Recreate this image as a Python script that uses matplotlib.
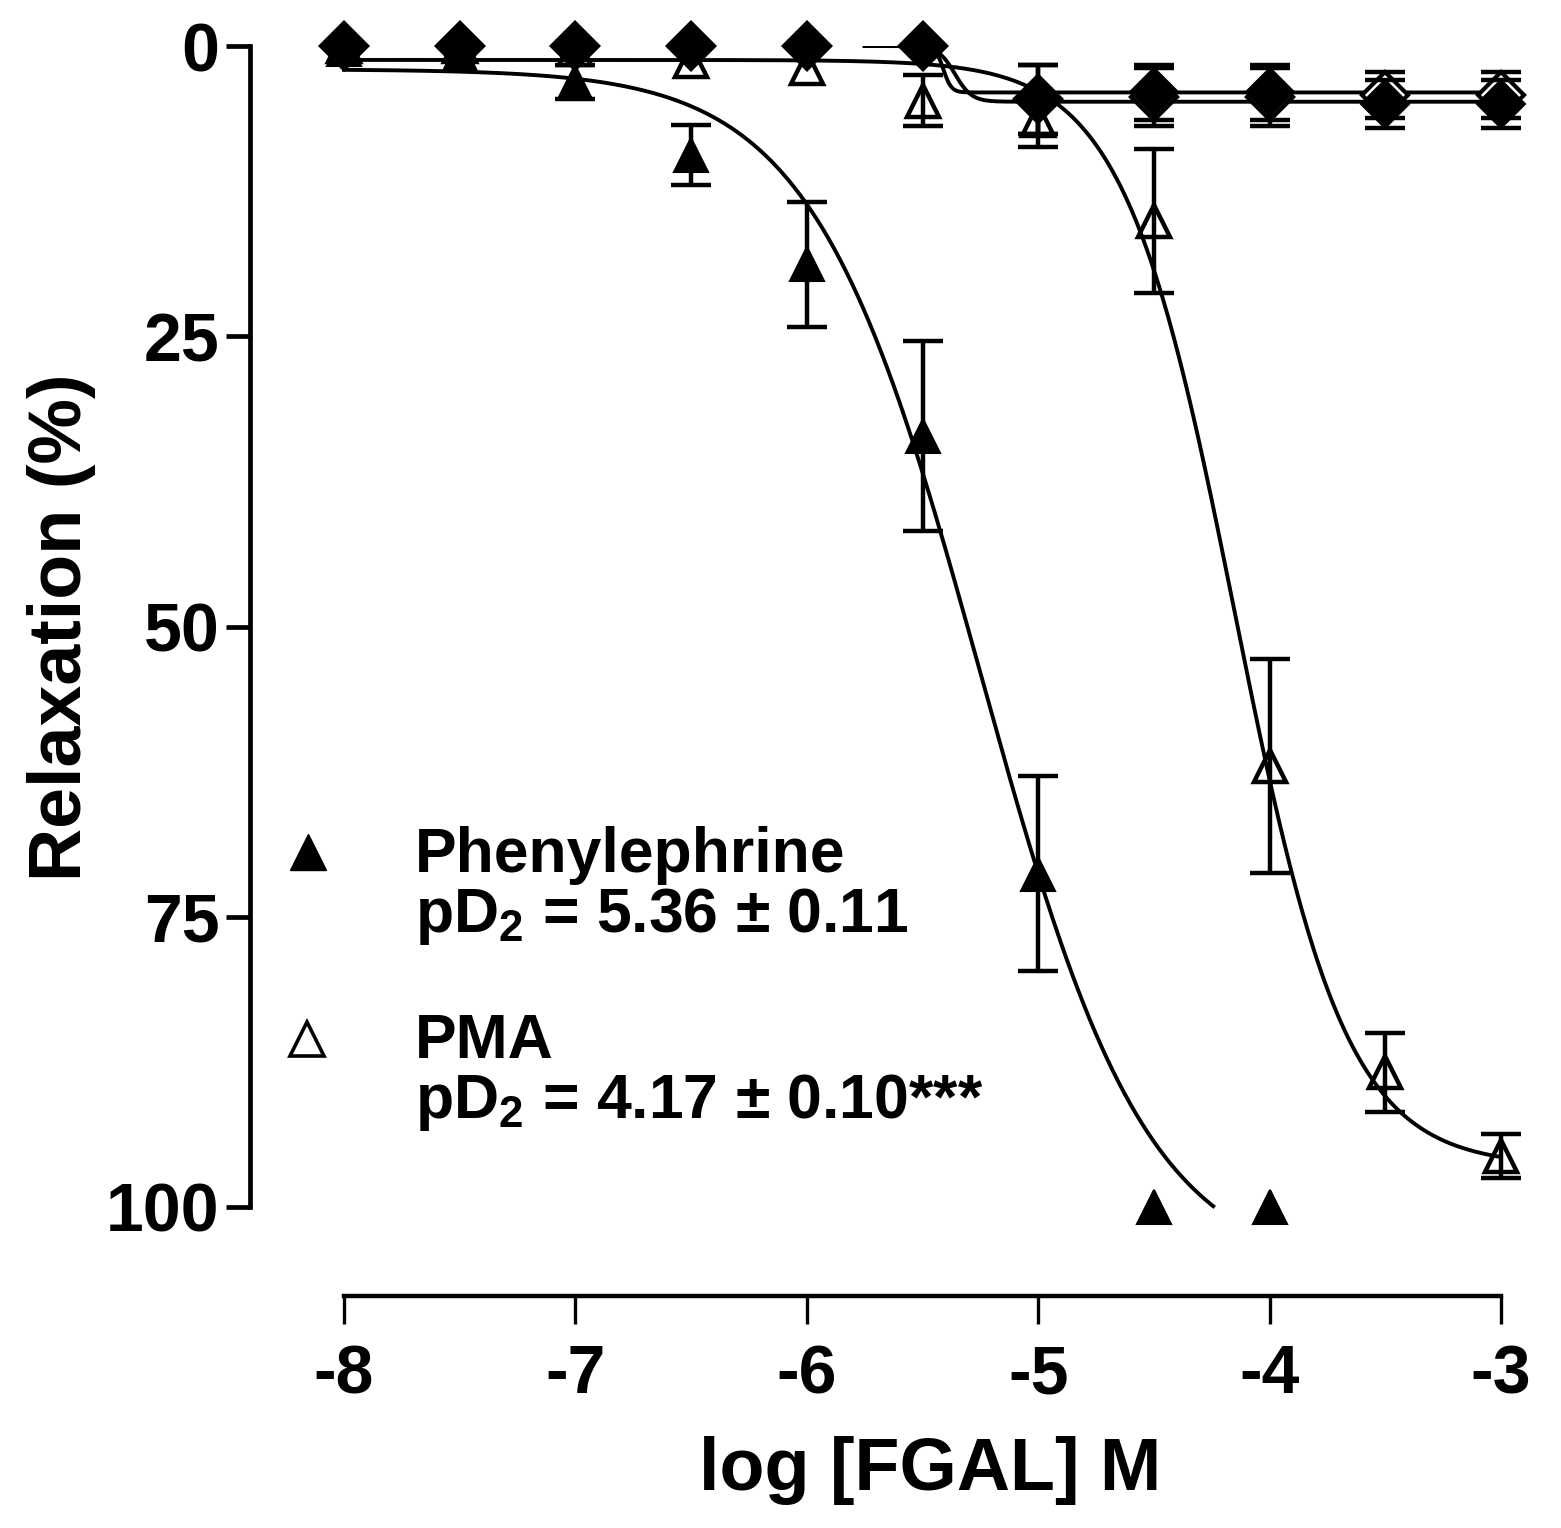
import matplotlib
matplotlib.use('Agg')  # sin pantalla
import matplotlib.pyplot as plt
import numpy as np

plt.rcParams['font.family'] = ['Liberation Sans', 'DejaVu Sans']
plt.rcParams['font.weight'] = 'bold'
plt.rcParams['mathtext.fontset'] = 'custom'
plt.rcParams['mathtext.rm'] = 'Liberation Sans:bold'
plt.rcParams['mathtext.it'] = 'Liberation Sans:bold'
plt.rcParams['mathtext.bf'] = 'Liberation Sans:bold'

# log [FGAL] M
log_conc = [-8, -7.5, -7, -6.5, -6, -5.5, -5, -4.5, -4, -3.5, -3]

# Phenylephrine (triangulos rellenos)
phe_x = [-8, -7.5, -7, -6.5, -6, -5.5, -5, -4.5, -4]
phe_mean = [0.3, 0.7, 3.1, 9.4, 18.8, 33.6, 71.3, 100, 100]
phe_sem = [0, 0, 1.5, 2.6, 5.4, 8.2, 8.4, 0, 0]

# PMA (triangulos abiertos)
pma_mean = [0.0, 0.0, 0.3, 1.3, 1.9, 4.7, 6.4, 15.1, 62.0, 88.4, 95.6]
pma_sem = [0, 0, 0, 0, 0, 2.2, 2.3, 6.2, 9.2, 3.4, 1.9]

# controles (rombos)
dia_fill_mean = [0, 0, 0, 0, 0, 0, 4.6, 4.0, 4.0, 5.0, 5.0]
dia_fill_sem = [0, 0, 0, 0, 0, 0, 3.0, 2.4, 2.4, 2.1, 2.1]
dia_open_mean = [0, 0, 0, 0, 0, 0, 4.6, 4.4, 4.4, 4.2, 4.2]
dia_open_sem = [0, 0, 0, 0, 0, 0, 3.0, 2.5, 2.5, 2.0, 2.0]

# parametros de ajuste sigmoidal (bottom, top, logEC50, hill)
phe_fit = (2.0, 106.0, -5.25, 1.2)
pma_fit = (1.2, 96.5, -4.15, 1.8)
dia_fill_fit = (0.0, 4.0, -5.41, 25.0)
dia_open_fit = (0.0, 4.8, -5.36, 12.0)

x_ticks = [-8, -7, -6, -5, -4, -3]
y_ticks = [0, 25, 50, 75, 100]


def sigmoid(x, bottom, top, logec50, hill):
    return bottom + (top - bottom) / (1 + 10 ** ((logec50 - x) * hill))


def bars(ax, x, mean, sem, z):
    x = np.asarray(x, float)
    mean = np.asarray(mean, float)
    sem = np.asarray(sem, float)
    m = sem > 0
    ax.errorbar(x[m], mean[m], yerr=sem[m], fmt='none', ecolor='black',
                elinewidth=3.2, capsize=14.5, capthick=3.2, zorder=z, clip_on=False)


W, H = 1561, 1528
fig = plt.figure(figsize=(W / 100, H / 100), dpi=100)
ax = fig.add_axes([250 / W, 1 - 1296 / H, (1501 - 250) / W, (1296 - 46) / H])

# curvas ajustadas
xs = np.linspace(-8, -3, 600)
ys = sigmoid(xs, *phe_fit)
ax.plot(xs[ys <= 100], ys[ys <= 100], color='black', lw=2.8, zorder=4)
ax.plot(xs, sigmoid(xs, *pma_fit), color='black', lw=2.8, zorder=4)
xs2 = np.linspace(-5.75, -3, 800)
ax.plot(xs2, sigmoid(xs2, *dia_fill_fit), color='black', lw=2.8, zorder=4)
ax.plot(xs2, sigmoid(xs2, *dia_open_fit), color='black', lw=2.8, zorder=4)

# datos
bars(ax, phe_x, phe_mean, phe_sem, 3)
ax.plot(phe_x, phe_mean, ls='none', marker='^', ms=25, mfc='black', mec='black',
        mew=1.5, zorder=3, clip_on=False)
bars(ax, log_conc, pma_mean, pma_sem, 3)
ax.plot(log_conc, pma_mean, ls='none', marker='^', ms=23, mfc='none', mec='black',
        mew=3.2, zorder=3, clip_on=False)
bars(ax, log_conc, dia_open_mean, dia_open_sem, 5)
ax.plot(log_conc, dia_open_mean, ls='none', marker='D', ms=23, mfc='white', mec='black',
        mew=3.0, zorder=5, clip_on=False)
bars(ax, log_conc, dia_fill_mean, dia_fill_sem, 6)
ax.plot(log_conc, dia_fill_mean, ls='none', marker='D', ms=24, mfc='black', mec='black',
        mew=1.5, zorder=6, clip_on=False)

# ejes estilo Prism
ax.set_xlim(-8 - 94 / 231.4, -3)
ax.set_ylim(1250 / 11.61, 0)
for s in ['top', 'right']:
    ax.spines[s].set_visible(False)
ax.spines['left'].set_bounds(0, 100)
ax.spines['bottom'].set_bounds(-8, -3)
ax.spines['left'].set_linewidth(3.4)
ax.spines['bottom'].set_linewidth(3.2)
ax.set_xticks(x_ticks, [str(t) for t in x_ticks])
ax.set_yticks(y_ticks, [str(t) for t in y_ticks])
ax.tick_params(axis='y', direction='out', length=17, width=3.4, labelsize=49, pad=5)
ax.tick_params(axis='x', direction='out', length=20, width=2.4, labelsize=49, pad=14)

fig.text(62 / W, 1 - 627 / H, 'Relaxation (%)', rotation=90, fontsize=53,
         ha='center', va='center')
fig.text(930 / W, 1 - 1490 / H, 'log [FGAL] M', fontsize=53, ha='center', va='baseline')

# leyenda
ax.plot([(307.5 - 250) / 1251], [(1296 - 851.5) / 1250], transform=ax.transAxes,
        marker='^', ms=26, mfc='black', mec='black', ls='none', clip_on=False)
ax.plot([(307 - 250) / 1251], [(1296 - 1039) / 1250], transform=ax.transAxes,
        marker='^', ms=24, mfc='white', mec='black', mew=2.6, ls='none', clip_on=False)
fig.text(415 / W, 1 - 872 / H, 'Phenylephrine', fontsize=45, va='baseline')
fig.text(415 / W, 1 - 932 / H, 'pD$_2$ = 5.36 \u00b1 0.11', fontsize=45, va='baseline')
fig.text(415 / W, 1 - 1058 / H, 'PMA', fontsize=45, va='baseline')
fig.text(415 / W, 1 - 1118 / H, 'pD$_2$ = 4.17 \u00b1 0.10***', fontsize=45, va='baseline')

fig.savefig('out.png', dpi=100, facecolor='white')
